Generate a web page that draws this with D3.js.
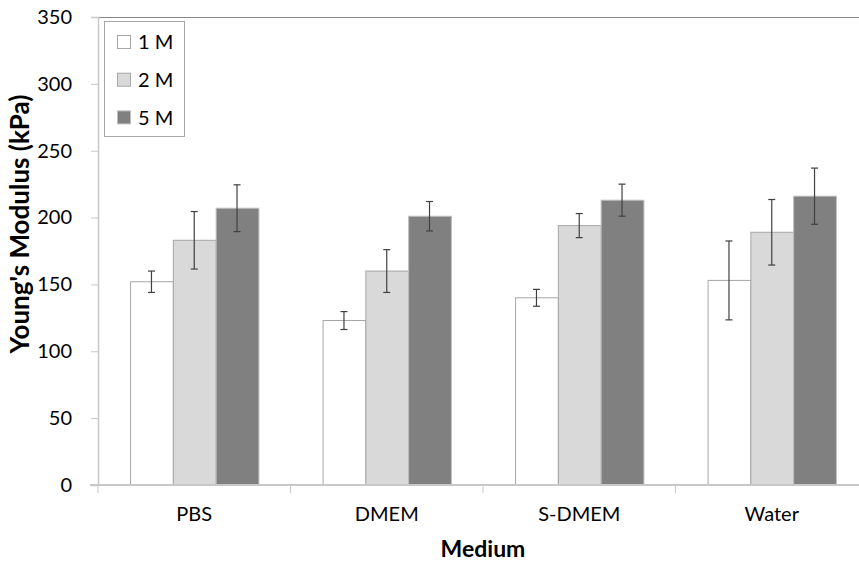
<!DOCTYPE html>
<html>
<head>
<meta charset="utf-8">
<script src="https://cdn.jsdelivr.net/npm/d3@7"></script>
<style>
  body { margin: 0; background: #fff; }
  text { font-family: Lato, "Open Sans", sans-serif; fill: #000; }
</style>
</head>
<body>
<div id="chart"></div>
<script>
// data
var media = ["PBS", "DMEM", "S-DMEM", "Water"];
var series = ["1 M", "2 M", "5 M"];
var means = [
  [152, 183, 207],
  [123, 160, 201],
  [140, 194, 213],
  [153, 189, 216]
];
var errs = [
  [8, 21.5, 17.5],
  [6.7, 16, 11],
  [6.3, 9, 12],
  [29.5, 24.5, 21]
];
var yTicks = [0, 50, 100, 150, 200, 250, 300, 350];

var fills = ["#ffffff", "#d9d9d9", "#808080"];
var strokes = ["#a6a6a6", "#a6a6a6", "#bfbfbf"];

var width = 859, height = 561;
var plotLeft = 98, plotTop = 17, plotBottom = 485, plotRight = 868; // right edge is cut off like the original

var svg = d3.select("#chart").append("svg")
  .attr("width", width)
  .attr("height", height);

var x = d3.scaleBand().domain(media).range([plotLeft, plotRight]);
var inner = d3.scaleBand().domain(series).range([0, x.bandwidth()]).paddingOuter(0.75).paddingInner(0);
var y = d3.scaleLinear().domain([0, 350]).range([plotBottom, plotTop]);

// top border of the plot area
svg.append("line")
  .attr("x1", plotLeft).attr("x2", width)
  .attr("y1", plotTop + 0.5).attr("y2", plotTop + 0.5)
  .style("stroke", "#868686");

// y axis
var yAxis = svg.append("g")
  .attr("transform", "translate(" + plotLeft + ",0)")
  .call(d3.axisLeft(y).tickValues(yTicks).tickSize(7).tickPadding(19));
yAxis.select(".domain").style("stroke", "#c8c8c8").style("stroke-width", 1.5);
yAxis.selectAll(".tick line").style("stroke", "#c8c8c8");
yAxis.selectAll(".tick text").style("font-size", "20px").style("font-family", "Lato, sans-serif").style("fill", "#000");

// bars
var groups = svg.selectAll(".grp")
  .data(media)
  .enter().append("g")
  .attr("class", "grp")
  .attr("transform", function(d) { return "translate(" + x(d) + ",0)"; });

function cells(d, i) {
  return series.map(function(s, j) { return {s: s, j: j, v: means[i][j], e: errs[i][j]}; });
}

groups.selectAll("rect")
  .data(cells)
  .enter().append("rect")
  .attr("x", function(d) { return inner(d.s) + 0.5; })
  .attr("y", function(d) { return y(d.v); })
  .attr("width", inner.bandwidth())
  .attr("height", function(d) { return y(0) - y(d.v); })
  .style("fill", function(d) { return fills[d.j]; })
  .style("stroke", function(d) { return strokes[d.j]; })
  .style("stroke-width", 1);

// error bars
var eb = groups.selectAll(".err")
  .data(cells)
  .enter().append("g")
  .attr("class", "err")
  .style("stroke", "#404040")
  .style("stroke-width", 1.2);
eb.append("line")
  .attr("x1", function(d) { return inner(d.s) + inner.bandwidth() / 2; })
  .attr("x2", function(d) { return inner(d.s) + inner.bandwidth() / 2; })
  .attr("y1", function(d) { return y(d.v + d.e); })
  .attr("y2", function(d) { return y(d.v - d.e); });
[1, -1].forEach(function(sgn) {
  eb.append("line")
    .attr("x1", function(d) { return inner(d.s) + inner.bandwidth() / 2 - 3.5; })
    .attr("x2", function(d) { return inner(d.s) + inner.bandwidth() / 2 + 3.5; })
    .attr("y1", function(d) { return y(d.v + sgn * d.e); })
    .attr("y2", function(d) { return y(d.v + sgn * d.e); });
});

// x axis
var xAxis = svg.append("g")
  .attr("transform", "translate(0," + plotBottom + ")")
  .call(d3.axisBottom(x).tickSize(0).tickPadding(22));
xAxis.select(".domain").remove();
svg.append("line")
  .attr("x1", plotLeft - 8).attr("x2", width)
  .attr("y1", plotBottom).attr("y2", plotBottom)
  .style("stroke", "#c8c8c8").style("stroke-width", 2);
svg.selectAll(".xtick")
  .data(media)
  .enter().append("line")
  .attr("x1", function(d) { return x(d); })
  .attr("x2", function(d) { return x(d); })
  .attr("y1", plotBottom).attr("y2", plotBottom + 8)
  .style("stroke", "#c8c8c8");
xAxis.selectAll(".tick text").style("font-size", "20px").style("font-family", "Lato, sans-serif").style("fill", "#000");

// axis titles
svg.append("text")
  .attr("x", 483)
  .attr("y", 557)
  .attr("text-anchor", "middle")
  .style("font-size", "23px")
  .style("font-weight", "bold")
  .text("Medium");

svg.append("text")
  .attr("transform", "translate(29,224) rotate(-90)")
  .attr("text-anchor", "middle")
  .style("font-size", "26px")
  .style("font-weight", "bold")
  .text("Young's Modulus (kPa)");

// legend
var legend = svg.append("g").attr("transform", "translate(104,21)");
legend.append("rect")
  .attr("x", 0.5).attr("y", 0.5)
  .attr("width", 80).attr("height", 115)
  .style("fill", "#fff")
  .style("stroke", "#a6a6a6");
var li = legend.selectAll(".li")
  .data(series)
  .enter().append("g")
  .attr("transform", function(d, i) { return "translate(13," + (21 + i * 37.7) + ")"; });
li.append("rect")
  .attr("x", 0.5).attr("y", -6.5)
  .attr("width", 13).attr("height", 13)
  .style("fill", function(d, i) { return fills[i]; })
  .style("stroke", function(d, i) { return strokes[i]; });
li.append("text")
  .attr("x", 21)
  .attr("y", 0)
  .attr("dy", "0.36em")
  .style("font-size", "20px")
  .text(function(d) { return d; });
</script>
</body>
</html>
